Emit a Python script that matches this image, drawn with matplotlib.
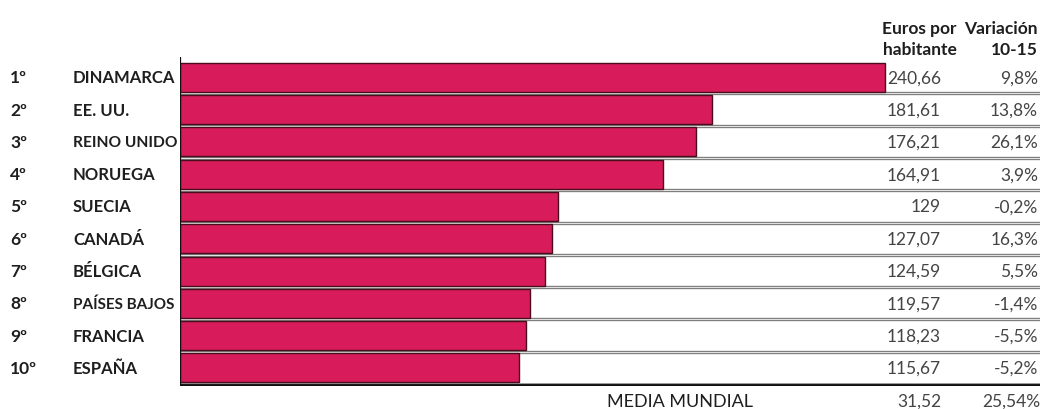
import matplotlib.pyplot as plt
import matplotlib.transforms as mtransforms

plt.rcParams['font.family'] = ['Lato', 'DejaVu Sans']

ranks = ['1º', '2º', '3º', '4º', '5º', '6º', '7º', '8º', '9º', '10º']
countries = ['DINAMARCA', 'EE. UU.', 'REINO UNIDO', 'NORUEGA', 'SUECIA',
             'CANADÁ', 'BÉLGICA', 'PAÍSES BAJOS', 'FRANCIA', 'ESPAÑA']
euros = [240.66, 181.61, 176.21, 164.91, 129, 127.07, 124.59, 119.57, 118.23, 115.67]
variacion = ['9,8%', '13,8%', '26,1%', '3,9%', '-0,2%', '16,3%', '5,5%', '-1,4%', '-5,5%', '-5,2%']
media_euros = '31,52'
media_var = '25,54%'

W, H = 1046, 410
fig = plt.figure(figsize=(W / 100, H / 100), dpi=100)
ax = fig.add_axes([180 / W, 1 - 387 / H, (1040 - 180) / W, (387 - 58) / H])

BAR = '#d81b5a'
y = list(range(len(countries)))
ax.barh(y, euros, height=0.9, color=BAR, edgecolor='#4a0d1e', linewidth=1.0, zorder=3)
ax.set_xlim(0, 860 / 2.93)
ax.set_ylim(9.56, -0.63)
ax.axis('off')

# row separators
for i in range(len(countries) - 1):
    ax.axhline(i + 0.5, color='#7a7a7a', lw=2.4, zorder=2)
    ax.axhline(i + 0.5, color='#e2e2e2', lw=0.8, zorder=2)
ax.axhline(9.5, color='#8a8a8a', lw=1.2, zorder=2)
ax.axhline(9.56, color='#111111', lw=3.5, zorder=4)
ax.axvline(0, color='#111111', lw=1.6, zorder=4)

# text columns placed in figure pixels horizontally, data rows vertically
tr = mtransforms.blended_transform_factory(fig.transFigure, ax.transData)
def fx(px):
    return px / W

# long names squeezed so they stop at the axis line
name_size = {'REINO UNIDO': 11.2, 'PAÍSES BAJOS': 11.0}

for i in y:
    ax.text(fx(10), i, ranks[i], transform=tr, ha='left', va='center',
            fontsize=12.5, fontweight='bold', color='#1e1e1e')
    ax.text(fx(73), i, countries[i], transform=tr, ha='left', va='center',
            fontsize=name_size.get(countries[i], 12), fontweight='bold', color='#1e1e1e')
    ax.text(fx(941), i, f'{euros[i]:g}'.replace('.', ','), transform=tr,
            ha='right', va='center', fontsize=12.5, color='#444444')
    ax.text(fx(1038), i, variacion[i], transform=tr, ha='right', va='center',
            fontsize=12.5, color='#444444')

# column headers
hdr = dict(ha='right', va='center', fontsize=12.5, fontweight='bold', color='#1e1e1e')
fig.text(fx(957), 1 - 29 / H, 'Euros por', **hdr)
fig.text(fx(957), 1 - 50 / H, 'habitante', **hdr)
fig.text(fx(1038), 1 - 29 / H, 'Variación', **hdr)
fig.text(fx(1038), 1 - 50 / H, '10-15', **hdr)

# world average row
fig.text(fx(680), 1 - 402 / H, 'MEDIA MUNDIAL', ha='center', va='center',
         fontsize=13, color='#1e1e1e')
fig.text(fx(941), 1 - 402 / H, media_euros, ha='right', va='center',
         fontsize=12.5, color='#444444')
fig.text(fx(1040), 1 - 402 / H, media_var, ha='right', va='center',
         fontsize=12.5, color='#444444')

fig.savefig('out.png', dpi=100)
